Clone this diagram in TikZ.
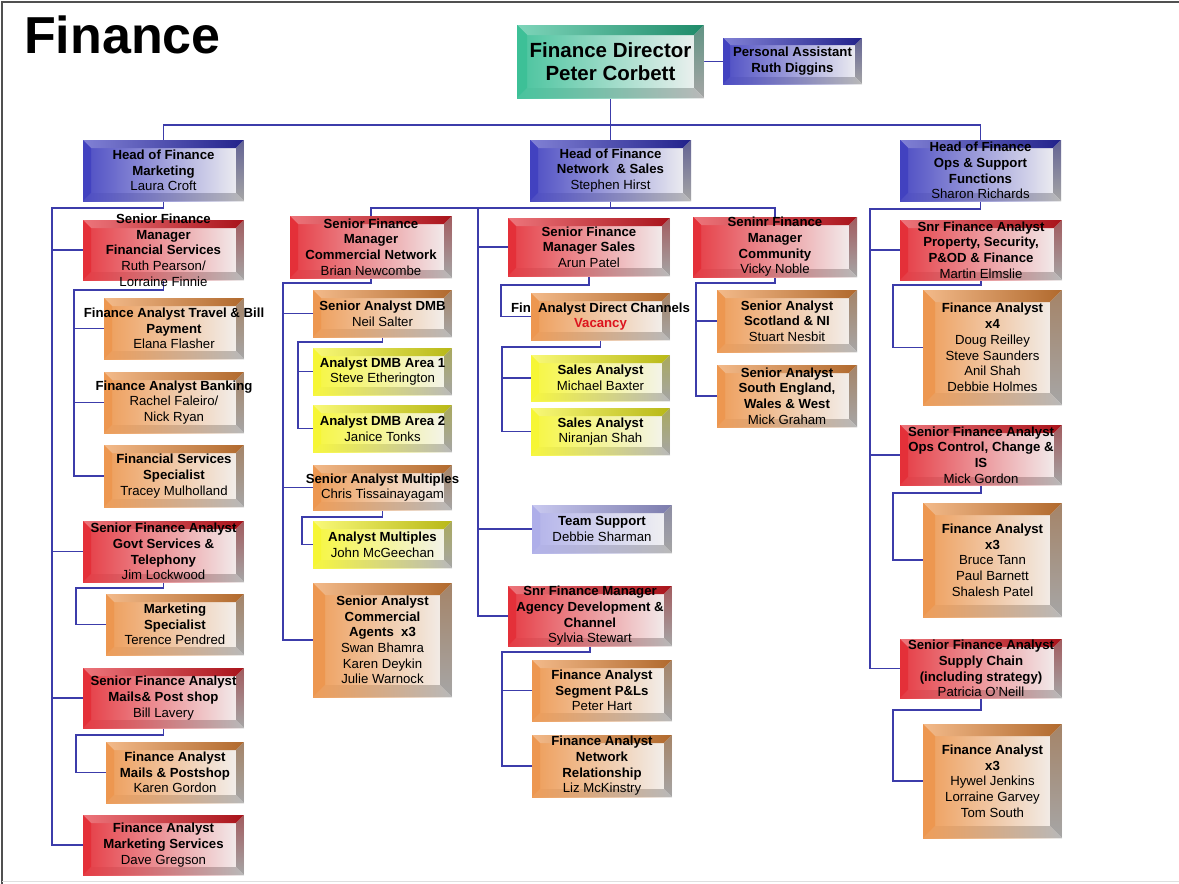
\documentclass[tikz,border=0pt]{standalone}
\usepackage{fontspec}
\setmainfont{Liberation Sans}
\usetikzlibrary{calc}
\definecolor{bgreen}{RGB}{40,185,140}
\definecolor{bblue}{RGB}{45,45,185}
\definecolor{bred}{RGB}{225,25,35}
\definecolor{borange}{RGB}{235,140,60}
\definecolor{byellow}{RGB}{245,245,30}
\definecolor{blav}{RGB}{165,165,230}
\definecolor{connc}{RGB}{60,60,170}
\definecolor{vacred}{RGB}{220,20,30}
\definecolor{framec}{RGB}{80,80,80}
\pgfdeclarelayer{bg}
\pgfsetlayers{bg,main}
\tikzset{
  bevbox/.style 2 args={rectangle, inner sep=0pt, outer sep=0pt,
    path picture={
      \coordinate (bvSW) at (path picture bounding box.south west);
      \coordinate (bvNE) at (path picture bounding box.north east);
      \coordinate (bvNW) at (path picture bounding box.north west);
      \coordinate (bvSE) at (path picture bounding box.south east);
      \coordinate (bvsw) at ($(bvSW)+(#2pt,#2pt)$);
      \coordinate (bvne) at ($(bvNE)+(-#2pt,-#2pt)$);
      \coordinate (bvnw) at ($(bvNW)+(#2pt,-#2pt)$);
      \coordinate (bvse) at ($(bvSE)+(-#2pt,#2pt)$);
      \shade[left color=#1!85!white, middle color=white, right color=white!90!gray] (bvSW) rectangle (bvNE);
      \shade[left color=#1!60!white, right color=#1!75!black] (bvNW) -- (bvNE) -- (bvne) -- (bvnw) -- cycle;
      \fill[#1!90!white] (bvSW) -- (bvNW) -- (bvnw) -- (bvsw) -- cycle;
      \shade[top color=#1!35!gray, bottom color=gray!70] (bvNE) -- (bvSE) -- (bvse) -- (bvne) -- cycle;
      \shade[left color=#1!85!white, right color=gray!55] (bvSW) -- (bvSE) -- (bvse) -- (bvsw) -- cycle;
    }},
  boxtext/.style={align=center, inner sep=0pt, font=\fontsize{13.2}{15.7}\selectfont\bfseries},
  conn/.style={draw=connc, line width=1.3pt}
}
\newcommand\bx[8][8]{%
  \node[bevbox={#7}{#1}, minimum width={#5-#3}, minimum height={#6-#4}] (#2) at ({(#3+#5)/2},{(#4+#6)/2}) {};
  \node[boxtext] (#2-t) at (#2.center) {#8};
}
\begin{document}
\begin{tikzpicture}[x=1pt,y=-1pt]
\useasboundingbox (0,0) rectangle (1179,884);
\draw[framec, line width=2pt] (2,884) -- (2,2) -- (1179,2);
\draw[gray!25, line width=1pt] (2,881) -- (1179,881);
\node[anchor=base west, inner sep=0pt, font=\fontsize{52}{60}\selectfont\bfseries] (title) at (24,53) {Finance};

% top
\node[bevbox={bgreen}{10}, minimum width=187, minimum height=73] (FD) at (610.5,61.5) {};
\node[align=center, inner sep=0pt, font=\fontsize{20.5}{22.5}\selectfont\bfseries] (FD-t) at (FD.center) {Finance Director\\Peter Corbett};
\bx[7]{PA}{723}{38}{862}{84}{bblue}{Personal Assistant\\Ruth Diggins}

% heads
\bx{HM}{83}{140}{244}{201}{bblue}{Head of Finance\\Marketing\\\mdseries Laura Croft}
\bx{HN}{530}{140}{691}{201}{bblue}{Head of Finance\\Network~\ \& Sales\\\mdseries Stephen Hirst}
\bx{HO}{900}{140}{1061}{201}{bblue}{Head of Finance\\Ops \& Support\\Functions\\\mdseries Sharon Richards}

% column 1
\bx{c1a}{83}{220}{244}{280}{bred}{Senior Finance\\Manager\\Financial Services\\\mdseries Ruth Pearson/\\\mdseries Lorraine Finnie}
\bx{c1b}{104}{298}{244}{359}{borange}{Finance Analyst Travel \& Bill\\Payment\\\mdseries Elana Flasher}
\bx{c1c}{104}{372}{244}{433}{borange}{Finance Analyst Banking\\\mdseries Rachel Faleiro/\\\mdseries Nick Ryan}
\bx{c1d}{104}{445}{244}{507}{borange}{Financial Services\\Specialist\\\mdseries Tracey Mulholland}
\bx{c1e}{83}{521}{244}{582}{bred}{Senior Finance Analyst\\Govt Services \&\\Telephony\\\mdseries Jim Lockwood}
\bx{c1f}{106}{594}{244}{655}{borange}{Marketing\\Specialist\\\mdseries Terence Pendred}
\bx{c1g}{83}{668}{244}{728}{bred}{Senior Finance Analyst\\Mails\& Post shop\\\mdseries Bill Lavery}
\bx{c1h}{106}{742}{244}{803}{borange}{Finance Analyst\\Mails \& Postshop\\\mdseries Karen Gordon}
\bx{c1i}{83}{815}{244}{875}{bred}{Finance Analyst\\Marketing Services\\\mdseries Dave Gregson}

% column 2
\bx{c2a}{290}{216}{452}{278}{bred}{Senior Finance\\Manager\\Commercial Network\\\mdseries Brian Newcombe}
\bx{c2b}{313}{290}{452}{337}{borange}{Senior Analyst DMB\\\mdseries Neil Salter}
\bx{c2c}{313}{348}{452}{395}{byellow}{Analyst DMB Area 1\\\mdseries Steve Etherington}
\bx{c2d}{313}{405}{452}{452}{byellow}{Analyst DMB Area 2\\\mdseries Janice Tonks}
\bx{c2e}{313}{465}{452}{510}{borange}{Senior Analyst Multiples\\\mdseries Chris Tissainayagam}
\bx{c2f}{313}{521}{452}{568}{byellow}{Analyst Multiples\\\mdseries John McGeechan}
\bx[12]{c2g}{313}{583}{452}{697}{borange}{Senior Analyst\\Commercial\\Agents~ x3\\\mdseries Swan Bhamra\\\mdseries Karen Deykin\\\mdseries Julie Warnock}

% column 3
\bx{c3a}{508}{218}{670}{276}{bred}{Senior Finance\\Manager Sales\\\mdseries Arun Patel}
\bx{c3b}{531}{293}{670}{340}{borange}{Fin~\ Analyst Direct Channels\\\textcolor{vacred}{Vacancy}}
\bx{c3c}{531}{355}{670}{401}{byellow}{Sales Analyst\\\mdseries Michael Baxter}
\bx{c3d}{531}{408}{670}{455}{byellow}{Sales Analyst\\\mdseries Niranjan Shah}
\bx{c3e}{532}{505}{672}{553}{blav}{Team Support\\\mdseries Debbie Sharman}
\bx{c3f}{508}{586}{672}{646}{bred}{Snr Finance Manager\\Agency Development \&\\Channel\\\mdseries Sylvia Stewart}
\bx{c3g}{532}{660}{672}{721}{borange}{Finance Analyst\\Segment P\&Ls\\\mdseries Peter Hart}
\bx{c3h}{532}{735}{672}{797}{borange}{Finance Analyst\\Network\\Relationship\\\mdseries Liz McKinstry}

% column 4
\bx{c4a}{693}{217}{857}{277}{bred}{Seninr Finance\\Manager\\Community\\\mdseries Vicky Noble}
\bx{c4b}{717}{290}{857}{352}{borange}{Senior Analyst\\Scotland \& NI\\\mdseries Stuart Nesbit}
\bx{c4c}{717}{365}{857}{427}{borange}{Senior Analyst\\South England,\\Wales \& West\\\mdseries Mick Graham}

% column 5
\bx{c5a}{900}{220}{1062}{280}{bred}{Snr Finance Analyst\\Property, Security,\\P\&OD \& Finance\\\mdseries Martin Elmslie}
\bx[12]{c5b}{923}{290}{1062}{405}{borange}{Finance Analyst\\x4\\\mdseries Doug Reilley\\\mdseries Steve Saunders\\\mdseries Anil Shah\\\mdseries Debbie Holmes}
\bx{c5c}{900}{425}{1062}{485}{bred}{Senior Finance Analyst\\Ops Control, Change \&\\IS\\\mdseries Mick Gordon}
\bx[12]{c5d}{923}{503}{1062}{617}{borange}{Finance Analyst\\x3\\\mdseries Bruce Tann\\\mdseries Paul Barnett\\\mdseries Shalesh Patel}
\bx{c5e}{900}{639}{1062}{698}{bred}{Senior Finance Analyst\\Supply Chain\\(including strategy)\\\mdseries Patricia O'Neill}
\bx[12]{c5f}{923}{724}{1062}{838}{borange}{Finance Analyst\\x3\\\mdseries Hywel Jenkins\\\mdseries Lorraine Garvey\\\mdseries Tom South}

\begin{pgfonlayer}{bg}
\draw[conn] (FD.south) -- ++(0,27) coordinate (topbus);
\draw[conn] (HM.north) |- (topbus) -| (HO.north);
\draw[conn] (topbus) -- (HN.north);
\draw[conn] (FD.east) -- (FD.east -| PA.west);
% marketing
\coordinate (b1) at (52,0);
\draw[conn] (HM.south) -- ++(0,7) -| (b1 |- c1i.west) -- (c1i.west);
\foreach \q in {c1a,c1e,c1g} \draw[conn] (b1 |- \q.west) -- (\q.west);
\coordinate (b1a) at (74,0);
\draw[conn] (c1a.south) -- ++(0,10) -| (b1a |- c1d.west) -- (c1d.west);
\foreach \q in {c1b,c1c} \draw[conn] (b1a |- \q.west) -- (\q.west);
\coordinate (b1e) at (76,0);
\draw[conn] (c1e.south) -- ++(0,6) -| (b1e |- c1f.west) -- (c1f.west);
\draw[conn] (c1g.south) -- ++(0,7) -| (b1e |- c1h.west) -- (c1h.west);
% network
\draw[conn] (HN.south) -- ++(0,7) coordinate (hnbus);
\draw[conn] (c2a.north) |- (hnbus) -| (c4a.north);
\coordinate (b2) at (283,0);
\draw[conn] (c2a.south) -- ++(0,5) -| (b2 |- c2g.west) -- (c2g.west);
\foreach \q in {c2b,c2e} \draw[conn] (b2 |- \q.west) -- (\q.west);
\coordinate (b2b) at (298,0);
\draw[conn] (c2b.south) -- ++(0,5) -| (b2b |- c2d.west) -- (c2d.west);
\draw[conn] (b2b |- c2c.west) -- (c2c.west);
\coordinate (b2e) at (302,0);
\draw[conn] (c2e.south) -- ++(0,7) -| (b2e |- c2f.west) -- (c2f.west);
\coordinate (b3) at (478,0);
\draw[conn] (b3 |- hnbus) -- (b3 |- c3f.west) -- (c3f.west);
\foreach \q in {c3a,c3e} \draw[conn] (b3 |- \q.west) -- (\q.west);
\coordinate (b3x) at (501,0);
\draw[conn] (c3a.south) -- ++(0,9) -| (b3x |- c3b.west) -- (c3b.west);
\coordinate (b3y) at (502,0);
\draw[conn] (c3b.south) -- ++(0,7) -| (b3y |- c3d.west) -- (c3d.west);
\draw[conn] (b3y |- c3c.west) -- (c3c.west);
\draw[conn] (c3f.south) -- ++(0,6) -| (b3y |- c3h.west) -- (c3h.west);
\draw[conn] (b3y |- c3g.west) -- (c3g.west);
\coordinate (b4) at (696,0);
\draw[conn] (c4a.south) -- ++(0,6) -| (b4 |- c4c.west) -- (c4c.west);
\draw[conn] (b4 |- c4b.west) -- (c4b.west);
% ops
\coordinate (b5) at (870,0);
\draw[conn] (HO.south) -- ++(0,8) -| (b5 |- c5e.west) -- (c5e.west);
\foreach \q in {c5a,c5c} \draw[conn] (b5 |- \q.west) -- (\q.west);
\coordinate (b5s) at (893,0);
\draw[conn] (c5a.south) -- ++(0,5) -| (b5s |- c5b.west) -- (c5b.west);
\draw[conn] (c5c.south) -- ++(0,8) -| (b5s |- c5d.west) -- (c5d.west);
\draw[conn] (c5e.south) -- ++(0,12) -| (b5s |- c5f.west) -- (c5f.west);
\end{pgfonlayer}
\end{tikzpicture}
\end{document}
